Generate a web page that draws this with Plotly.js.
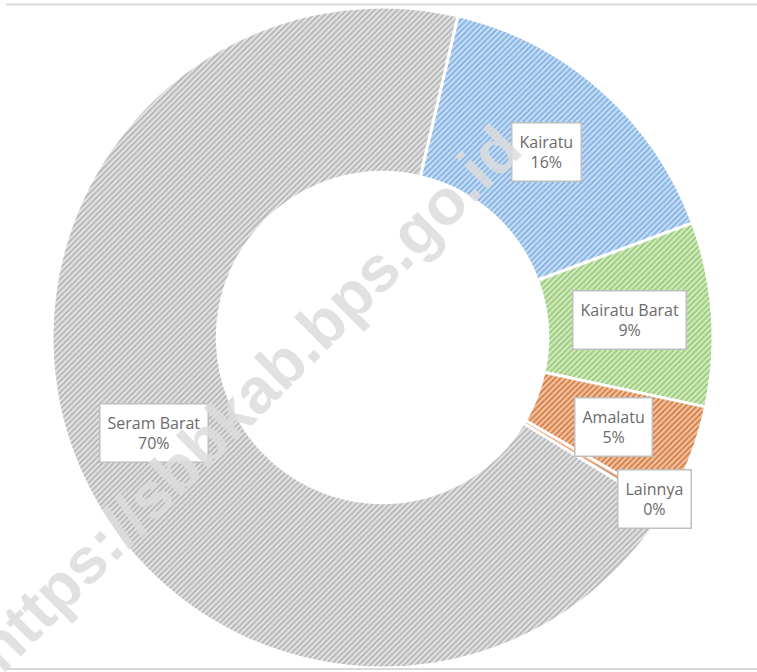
<!DOCTYPE html>
<html>
<head>
<meta charset="utf-8">
<script src="https://cdn.plot.ly/plotly-3.0.1.min.js"></script>
<style>html,body{margin:0;padding:0;background:#fff;}#chart{width:757px;height:672px;}</style>
</head>
<body>
<div id="chart"></div>
<script>
// ---- data ----
const labels = ["Kairatu", "Kairatu Barat", "Amalatu", "Lainnya", "Seram Barat"];
const values = [15.7, 9.0, 5.0, 0.35, 69.95];
const watermarkText = "https://sbbkab.bps.go.id";

// ---- styles ----
const bgColors = ["#c9def5", "#d3eac3", "#f5c3a0", "#f4a46c", "#e3e3e3"];
const fgColors = ["#7fb0e3", "#97ca74", "#cf7a44", "#f4a46c", "#b3b3b3"];
const shapes = ["/", "/", "/", "", "/"];

const W = 757, H = 672;
const domX = [52 / W, 713 / W];
const domY = [4 / H, 665 / H];
const rotation = 13.2;
const hole = 0.5;

const trace = {
  type: "pie",
  labels: labels,
  values: values,
  sort: false,
  direction: "clockwise",
  rotation: rotation,
  hole: hole,
  textinfo: "none",
  hoverinfo: "label+percent",
  domain: {x: domX, y: domY},
  marker: {
    colors: bgColors,
    line: {color: "#ffffff", width: 3},
    pattern: {shape: shapes, fgcolor: fgColors, bgcolor: bgColors, size: 4, solidity: 0.45}
  }
};

// label boxes positioned from the data (mid-angle of each slice)
const total = values.reduce((a, b) => a + b, 0);
const cx = (domX[0] + domX[1]) / 2, cy = (domY[0] + domY[1]) / 2;
const R = Math.min((domX[1] - domX[0]) * W, (domY[1] - domY[0]) * H) / 2;
const annotations = [];
let start = rotation;
const labelFont = {family: "Open Sans", size: 16, color: "#6b6b6b"};
values.forEach((v, i) => {
  const span = 360 * v / total;
  const mid = (start + span / 2) * Math.PI / 180;
  start += span;
  const pct = Math.round(100 * v / total);
  const txt = labels[i] + "<br>" + pct + "%";
  const base = {
    xref: "paper", yref: "paper", text: txt, font: labelFont,
    bgcolor: "#ffffff", bordercolor: "#bfbfbf", borderwidth: 1.5, borderpad: 7,
    align: "center"
  };
  const rMid = R * (1 + hole) / 2;
  if (100 * v / total < 1) {
    const rText = R * 0.957;
    annotations.push(Object.assign(base, {
      x: cx + rMid * Math.sin(mid) / W,
      y: cy + rMid * Math.cos(mid) / H,
      showarrow: true, arrowhead: 0, arrowwidth: 1, arrowcolor: "#a6a6a6",
      ax: (rText - rMid) * Math.sin(mid),
      ay: -(rText - rMid) * Math.cos(mid)
    }));
  } else {
    annotations.push(Object.assign(base, {
      x: cx + rMid * Math.sin(mid) / W,
      y: cy + rMid * Math.cos(mid) / H,
      xanchor: "center", yanchor: "middle", showarrow: false
    }));
  }
});

// watermark
annotations.push({
  xref: "paper", yref: "paper", x: 248 / W, y: 1 - 398 / H,
  xanchor: "center", yanchor: "middle", showarrow: false,
  text: watermarkText, textangle: -45,
  font: {family: "Liberation Sans", size: 64, weight: "bold", color: "rgba(220,220,220,0.85)"}
});

const layout = {
  width: W, height: H,
  margin: {l: 0, r: 0, t: 0, b: 0},
  paper_bgcolor: "#ffffff",
  showlegend: false,
  annotations: annotations,
  shapes: [
    {type: "line", xref: "paper", yref: "paper", x0: 6 / W, x1: 1, y0: 1 - 4.5 / H, y1: 1 - 4.5 / H, line: {color: "#d9d9d9", width: 2}},
    {type: "line", xref: "paper", yref: "paper", x0: 6 / W, x1: 1, y0: 1 - 669 / H, y1: 1 - 669 / H, line: {color: "#d9d9d9", width: 2}}
  ]
};

Plotly.newPlot("chart", [trace], layout, {displayModeBar: false, staticPlot: true});
</script>
</body>
</html>
